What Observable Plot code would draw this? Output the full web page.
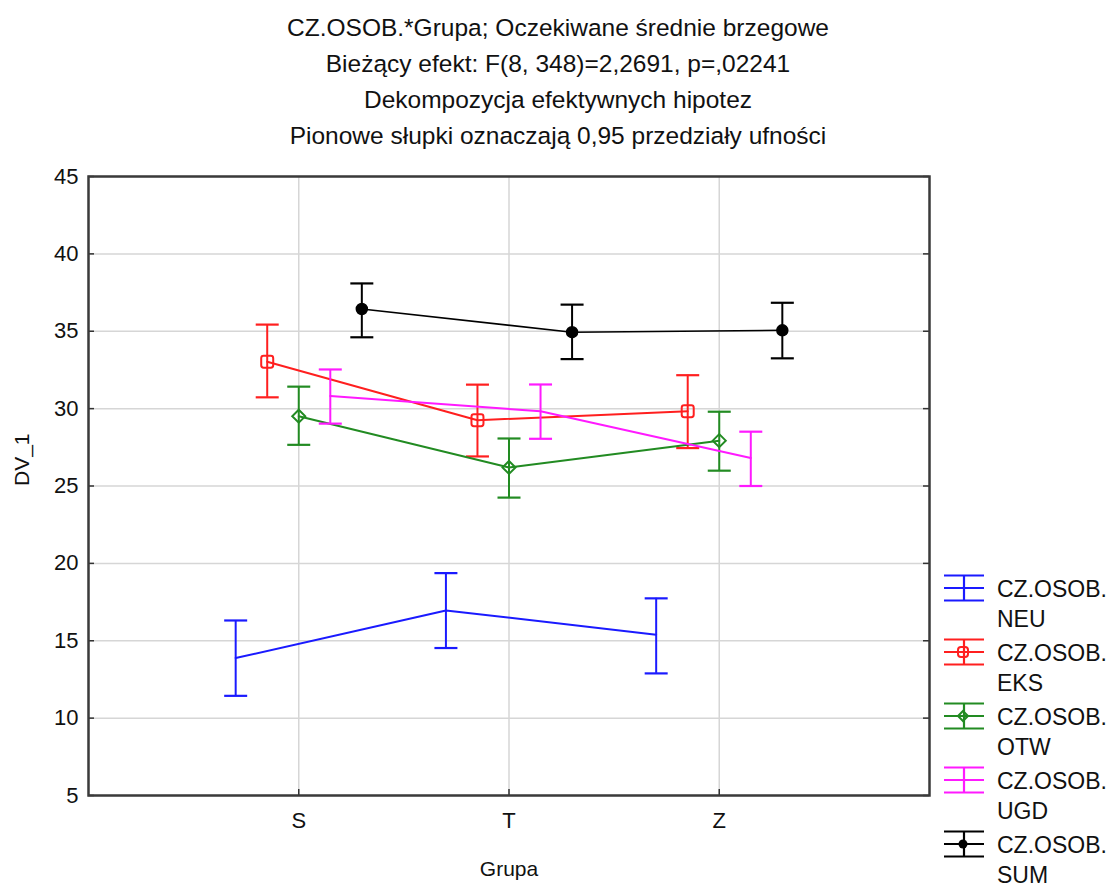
<!DOCTYPE html>
<html><head><meta charset="utf-8">
<script src="https://cdn.jsdelivr.net/npm/d3@7"></script>
<script src="https://cdn.jsdelivr.net/npm/@observablehq/plot@0.6"></script>
<style>
body{margin:0;background:#fff;font-family:"Liberation Sans",Arial,sans-serif;}
#page{position:relative;width:1110px;height:887px;overflow:hidden;background:#fff;}
#title{position:absolute;left:0;top:10px;width:1116px;text-align:center;font-size:24.5px;line-height:36px;color:#111;}
#chart{position:absolute;left:0;top:150px;}
.lsym{position:absolute;left:943px;}
.ltxt{position:absolute;left:997px;font-size:23px;line-height:30px;color:#111;}
</style></head><body>
<div id="page"><div id="title"></div><div id="chart"></div><div id="legend"></div></div>
<script>
const titleLines = [
  "CZ.OSOB.*Grupa; Oczekiwane średnie brzegowe",
  "Bieżący efekt: F(8, 348)=2,2691, p=,02241",
  "Dekompozycja efektywnych hipotez",
  "Pionowe słupki oznaczają 0,95 przedziały ufności"
];
const groups = ["S", "T", "Z"];
const seriesNames = ["NEU", "EKS", "OTW", "UGD", "SUM"];
const seriesLabel = "CZ.OSOB.";
const seriesColors = ["#1a1aff", "#ff1f1f", "#228b22", "#ff1aff", "#000000"];
const seriesMarkers = ["none", "square", "diamond", "none", "circle"];

const neuMean = [13.88, 16.96, 15.39], neuLow = [11.44, 14.53, 12.89], neuHigh = [16.31, 19.37, 17.74];
const eksMean = [33.03, 29.25, 29.83], eksLow = [30.73, 26.91, 27.45], eksHigh = [35.43, 31.55, 32.16];
const otwMean = [29.51, 26.20, 27.93], otwLow = [27.66, 24.25, 25.99], otwHigh = [31.42, 28.07, 29.80];
const ugdMean = [30.82, 29.83, 26.81], ugdLow = [29.03, 28.05, 25.00], ugdHigh = [32.53, 31.56, 28.51];
const sumMean = [36.44, 34.94, 35.06], sumLow = [34.61, 33.20, 33.25], sumHigh = [38.09, 36.72, 36.84];

const yTicks = [5, 10, 15, 20, 25, 30, 35, 40, 45];

const means = [neuMean, eksMean, otwMean, ugdMean, sumMean];
const lows = [neuLow, eksLow, otwLow, ugdLow, sumLow];
const highs = [neuHigh, eksHigh, otwHigh, ugdHigh, sumHigh];

document.getElementById("title").innerHTML = titleLines.map(t => `<div>${t}</div>`).join("");

const dodge = 0.15;
const tables = seriesNames.map((s, k) => groups.map((g, i) => ({
  series: s, group: g, pos: i + 1 + (k - 2) * dodge,
  mean: means[k][i], low: lows[k][i], high: highs[k][i]
})));

const capSymbol = {draw(ctx, size) { const r = Math.sqrt(size / Math.PI); ctx.moveTo(-r, 0); ctx.lineTo(r, 0); }};
const squareSymbol = {draw(ctx, size) {
  const r = Math.sqrt(size / Math.PI), c = r * 0.4;
  ctx.moveTo(-r + c, -r); ctx.lineTo(r - c, -r); ctx.quadraticCurveTo(r, -r, r, -r + c);
  ctx.lineTo(r, r - c); ctx.quadraticCurveTo(r, r, r - c, r);
  ctx.lineTo(-r + c, r); ctx.quadraticCurveTo(-r, r, -r, r - c);
  ctx.lineTo(-r, -r + c); ctx.quadraticCurveTo(-r, -r, -r + c, -r); ctx.closePath();
}};
const diamondSymbol = {draw(ctx, size) {
  const r = Math.sqrt(size / Math.PI);
  ctx.moveTo(0, -r); ctx.lineTo(r, 0); ctx.lineTo(0, r); ctx.lineTo(-r, 0); ctx.closePath();
}};

const W = 1110, H = 737, mL = 88, mR = 181, mT = 26, mB = 92;
const innerW = W - mL - mR, innerH = H - mT - mB;

const marks = [
  Plot.gridY(yTicks, {stroke: "#d6d6d6", strokeOpacity: 1, strokeWidth: 1.5}),
  Plot.gridX([1, 2, 3], {stroke: "#d6d6d6", strokeOpacity: 1, strokeWidth: 1.5}),
];
tables.forEach((t, k) => {
  const col = seriesColors[k];
  marks.push(Plot.line(t, {x: "pos", y: "mean", stroke: col, strokeWidth: k === 4 ? 1.6 : 2}));
  marks.push(Plot.ruleX(t, {x: "pos", y1: "low", y2: "high", stroke: col, strokeWidth: 2}));
  marks.push(Plot.dot(t, {x: "pos", y: "low", symbol: capSymbol, r: 11.5, stroke: col, strokeWidth: 2.2, fill: "none"}));
  marks.push(Plot.dot(t, {x: "pos", y: "high", symbol: capSymbol, r: 11.5, stroke: col, strokeWidth: 2.2, fill: "none"}));
  const m = seriesMarkers[k];
  if (m === "square") marks.push(Plot.dot(t, {x: "pos", y: "mean", symbol: squareSymbol, r: 6, stroke: col, strokeWidth: 2, fill: "none"}));
  if (m === "diamond") marks.push(Plot.dot(t, {x: "pos", y: "mean", symbol: diamondSymbol, r: 6.5, stroke: col, strokeWidth: 2, fill: "none"}));
  if (m === "circle") marks.push(Plot.dot(t, {x: "pos", y: "mean", r: 5.5, fill: col, stroke: col}));
});
marks.push(
  Plot.tickY(yTicks, {y: d => d, insetRight: innerW - 6, stroke: "#333", strokeWidth: 1.5}),
  Plot.tickY(yTicks, {y: d => d, insetLeft: innerW - 6, stroke: "#333", strokeWidth: 1.5}),
  Plot.tickX([1, 2, 3], {x: d => d, insetTop: innerH - 6, stroke: "#333", strokeWidth: 1.5}),
  Plot.axisY(yTicks, {tickSize: 0, tickPadding: 10, fontSize: 22, label: null, color: "#111"}),
  Plot.axisX([1, 2, 3], {tickSize: 0, tickPadding: 17, fontSize: 22, label: null, tickFormat: d => groups[d - 1], color: "#111"}),
  Plot.text(["DV_1"], {frameAnchor: "left", dx: -66, rotate: -90, fontSize: 21, fill: "#111"}),
  Plot.text(["Grupa"], {frameAnchor: "bottom", dy: 80, fontSize: 21, fill: "#111"}),
  Plot.frame({stroke: "#3a3a3a", strokeWidth: 2.5})
);

const chart = Plot.plot({
  width: W, height: H,
  marginLeft: mL, marginRight: mR, marginTop: mT, marginBottom: mB,
  style: {fontFamily: '"Liberation Sans", Arial, sans-serif', background: "#fff", overflow: "visible"},
  x: {type: "linear", domain: [0, 4]},
  y: {domain: [5, 45]},
  marks
});
document.getElementById("chart").appendChild(chart);

// legend
const leg = document.getElementById("legend");
seriesNames.forEach((s, k) => {
  const cy = 588 + k * 64, col = seriesColors[k], m = seriesMarkers[k];
  let marker = "";
  if (m === "square") marker = `<rect x="15" y="9" width="10" height="10" rx="3" fill="none" stroke="${col}" stroke-width="2"/>`;
  if (m === "diamond") marker = `<path d="M20,9L25,14L20,19L15,14Z" fill="none" stroke="${col}" stroke-width="2"/>`;
  if (m === "circle") marker = `<circle cx="20" cy="14" r="4.5" fill="${col}"/>`;
  leg.insertAdjacentHTML("beforeend",
    `<svg class="lsym" style="top:${cy - 14}px" width="42" height="28">
      <g stroke="${col}" stroke-width="2.2">
        <line x1="1" x2="41" y1="1.5" y2="1.5"/><line x1="1" x2="41" y1="14" y2="14"/><line x1="1" x2="41" y1="26.5" y2="26.5"/>
        <line x1="21" x2="21" y1="1.5" y2="26.5"/>
      </g>${marker}</svg>
     <div class="ltxt" style="top:${cy - 14}px">${seriesLabel}<br>${s}</div>`);
});
</script>
</body></html>
